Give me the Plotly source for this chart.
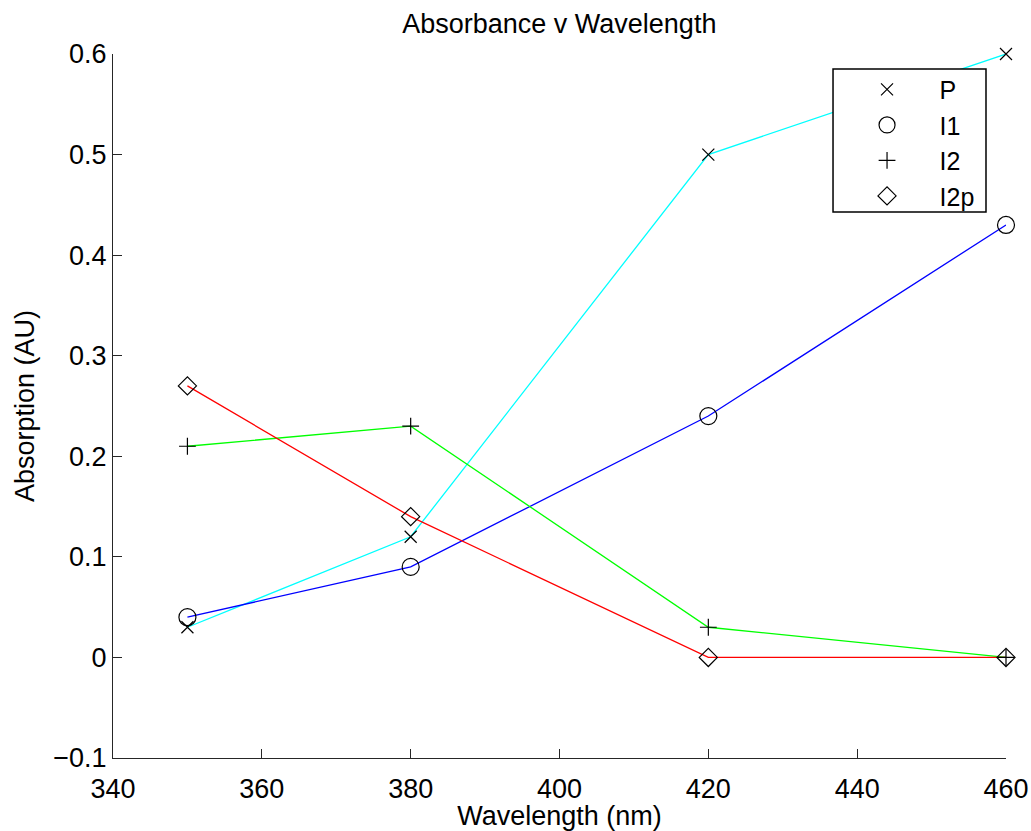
import plotly.graph_objects as go

# Wavelengths (nm) and absorbance readings for each sample
wavelength = [350, 380, 420, 460]
p_vals = [0.03, 0.12, 0.50, 0.60]
i1_vals = [0.04, 0.09, 0.24, 0.43]
i2_vals = [0.21, 0.23, 0.03, 0.00]
i2p_vals = [0.27, 0.14, 0.00, 0.00]

series_names = ["P", "I1", "I2", "I2p"]
series_vals = [p_vals, i1_vals, i2_vals, i2p_vals]
line_colors = ["#00FFFF", "#0000FF", "#00FF00", "#FF0000"]
symbols = ["x-thin-open", "circle-open", "cross-thin-open", "diamond-open"]
sizes = [12, 17, 12, 14]

FONT = "Liberation Sans, Arial, Helvetica, sans-serif"
FS = 27

fig = go.Figure()

# coloured connecting lines (no legend entries)
for vals, col in zip(series_vals, line_colors):
    fig.add_trace(go.Scatter(
        x=wavelength, y=vals, mode="lines",
        line=dict(color=col, width=1.3),
        showlegend=False, hoverinfo="skip", cliponaxis=False,
    ))

# black markers that carry the legend
for name, vals, sym, sz in zip(series_names, series_vals, symbols, sizes):
    fig.add_trace(go.Scatter(
        x=wavelength, y=vals, mode="markers", name=name,
        marker=dict(symbol=sym, size=sz, color="black",
                    line=dict(color="black", width=1.2)),
        cliponaxis=False,
    ))

axis_common = dict(
    showgrid=False, zeroline=False, showline=True,
    linecolor="#262626", linewidth=1.3,
    ticks="inside", ticklen=9, tickwidth=1.3, tickcolor="#262626",
    tickfont=dict(family=FONT, size=FS, color="black"),
    mirror=False, automargin=False,
)

# framed white panel behind the legend entries
fig.add_shape(type="rect", xref="paper", yref="paper",
              x0=0.8063, x1=0.9776, y0=0.7756, y1=0.9787,
              line=dict(color="black", width=1.5), fillcolor="white",
              layer="above")

fig.update_layout(
    width=1031, height=831,
    margin=dict(l=113, r=25, t=54, b=73),
    paper_bgcolor="white", plot_bgcolor="white",
    font=dict(family=FONT, size=FS, color="black"),
    title=dict(text="Absorbance v Wavelength", x=0.5425, xanchor="center",
               y=1 - 24 / 831, yanchor="middle", yref="container",
               font=dict(family=FONT, size=FS, color="black")),
    xaxis=dict(range=[340, 460], dtick=20, tick0=340,
               ticklabelstandoff=6,
               title=dict(text="Wavelength (nm)", standoff=0,
                          font=dict(family=FONT, size=FS)),
               **axis_common),
    yaxis=dict(range=[-0.1, 0.6], dtick=0.1, tick0=0,
               title=dict(text="Absorption (AU)", standoff=10,
                          font=dict(family=FONT, size=FS)),
               **axis_common),
    legend=dict(x=0.808, y=0.982, xanchor="left", yanchor="top",
                borderwidth=0, bgcolor="rgba(0,0,0,0)",
                font=dict(family=FONT, size=25, color="black"),
                itemwidth=95, itemsizing="trace"),
)

fig.write_html("out.html")
